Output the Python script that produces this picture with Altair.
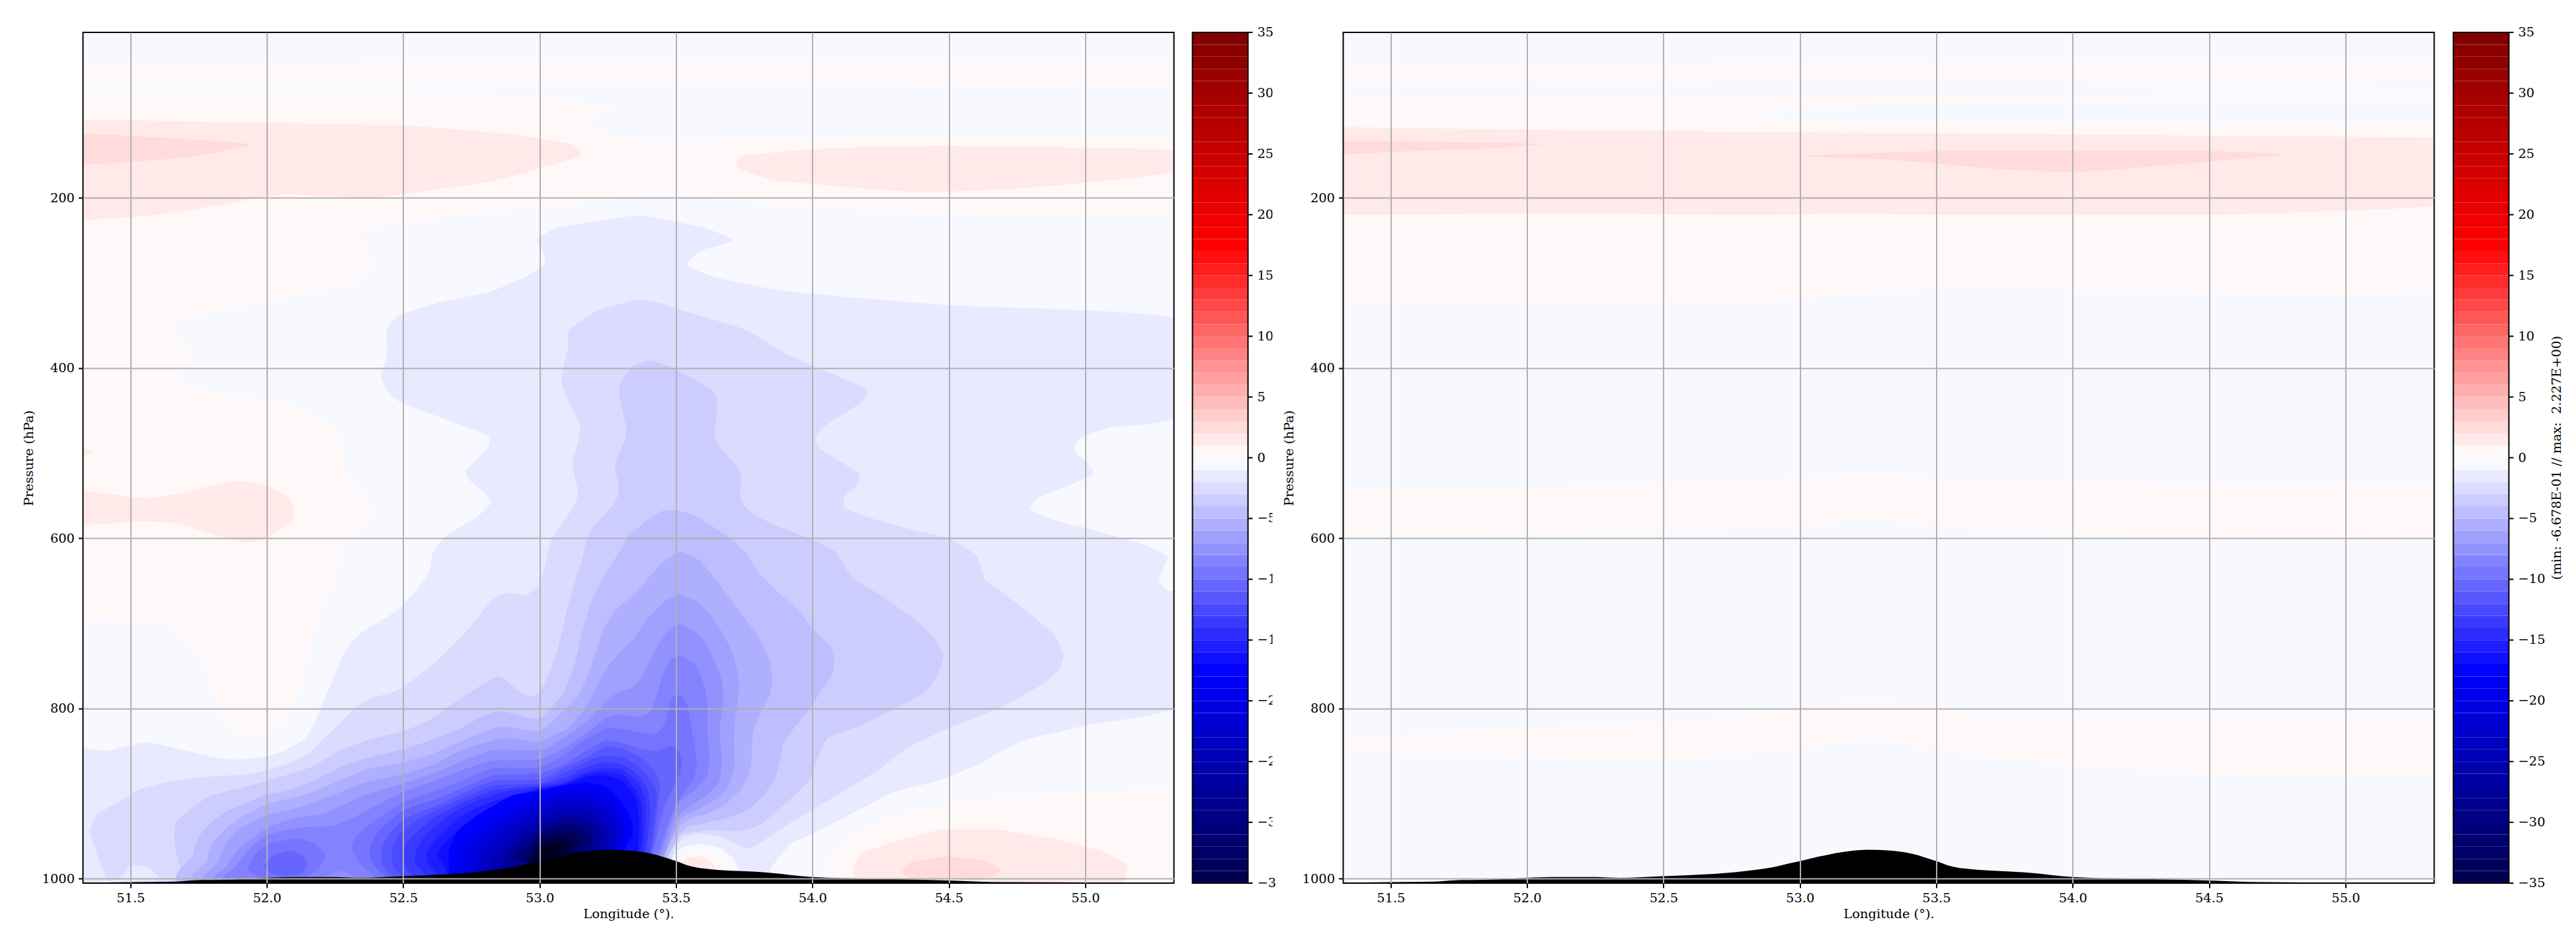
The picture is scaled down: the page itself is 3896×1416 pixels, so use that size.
import altair as alt
import pandas as pd

FONT = 'DejaVu Serif'
FONT_SIZE = 19.44
PLOT_W = 1650
PLOT_H = 1287

x_ticks = [51.5, 52.0, 52.5, 53.0, 53.5, 54.0, 54.5, 55.0]
y_ticks = [200, 400, 600, 800, 1000]
bar_ticks = [35, 30, 25, 20, 15, 10, 5, 0, -5, -10, -15, -20, -25, -30, -35]
bar_labels = ['35', '30', '25', '20', '15', '10', '5', '0', '−5', '−10', '−15', '−20', '−25', '−30', '−35']
# the left colour bar loses the end of its last label under the right panel
cut_ticks = [35, -35]
cut_labels = ['35', '−3']
bar_edges = list(range(-35, 35))

terrain_lon = [51.3, 51.5, 51.66, 51.72, 51.88, 52.0, 52.09, 52.25, 52.34, 52.5, 52.65, 52.8, 52.9, 52.96, 53.0, 53.07,
               53.15, 53.25, 53.33, 53.41, 53.5, 53.55, 53.6, 53.84, 54.0, 54.22, 54.5, 54.69, 55.0, 55.35]
terrain_p = [1005, 1004, 1003.5, 1002, 1001, 999, 998, 998, 999, 997, 995, 991, 986.5, 982, 979.4, 974,
             969, 966, 967, 970.6, 979.4, 985, 988, 993, 998, 1000, 1002, 1004, 1004.5, 1005]

# whole frame
bg_lon = [51, 56, 56, 51]
bg_p = [-50, -50, 1100, 1100]

# left panel, positive side
lp0a_lon = [51.3, 51.3, 52.5, 55.35, 55.35, 55.35, 53.0, 51.3]
lp0a_p = [30, 41, 41, 39, 45, 67, 66, 64]
lp0b_lon = [51.3, 51.3, 52.0, 52.9, 53.0, 53.27, 53.14, 53.25, 53.45, 54.5, 55.35, 55.35, 55.35, 54.5, 54.0, 53.45, 53.0, 52.5,
            52.34, 52.39, 52.29, 51.95, 51.69, 51.65, 51.73, 51.67, 51.77, 52.1, 52.26, 52.29, 52.31, 52.39, 52.37, 52.28,
            52.25, 52.2, 52.14, 52.12, 52.07, 52.01, 51.94, 51.89, 51.85, 51.82, 51.77, 51.65, 51.54, 51.3, 51.3]
lp0b_p = [85, 75, 75, 79, 82, 95, 109, 125, 132, 127, 127, 135, 219, 219, 210, 196, 210, 228,
          242, 281, 303, 324, 342, 358, 385, 411, 427, 445, 474, 526, 533, 565, 579, 604,
          646, 682, 744, 775, 812, 827, 834, 828, 814, 800, 744, 703, 696, 694, 680]
lp0c_lon = [54.05, 54.07, 54.18, 54.32, 54.53, 54.76, 54.99, 55.35, 55.35, 54.05]
lp0c_p = [1000, 972, 944, 926, 912, 903, 900, 899, 1010, 1010]
lp1a_lon = [51.3, 51.3, 52.0, 52.49, 52.88, 53.105, 53.15, 52.96, 52.8, 52.57, 52.37, 52.06, 51.84, 51.57, 51.3, 51.3]
lp1a_p = [115, 108, 112, 115, 125, 136, 150.5, 169, 182, 192.5, 200, 196, 207.5, 221, 226, 218]
lp1b_lon = [53.74, 53.73, 53.88, 54.38, 54.76, 55.07, 55.35, 55.35, 55.35, 55.0, 54.5, 54.22, 53.99]
lp1b_p = [151, 165, 180, 193, 189, 180, 169, 160, 144.5, 141, 139, 140, 143]
lp1c_lon = [51.3, 51.3, 51.49, 51.58, 51.69, 51.83, 51.91, 52.01, 52.08, 52.1, 52.09, 52.0, 51.92, 51.83, 51.69, 51.55, 51.3, 51.3]
lp1c_p = [550, 543, 551, 553, 547, 535.5, 533, 540, 552, 565, 579, 600, 605, 598, 584, 580, 585, 578]
lp1d_lon = [51.3, 51.36, 51.3]
lp1d_p = [492, 498.6, 509]
lp1e_lon = [54.15, 54.19, 54.32, 54.46, 54.66, 54.89, 55.07, 55.15, 55.15, 55.09, 54.22]
lp1e_p = [986.5, 969, 955, 943, 941.5, 953, 969, 983, 992, 1010, 1010]
lp2a_lon = [51.3, 51.33, 51.49, 51.94, 51.72, 51.49, 51.33, 51.3]
lp2a_p = [130, 125, 127, 137, 151.6, 158, 160.5, 155]
lp2b_lon = [54.33, 54.36, 54.49, 54.63, 54.69, 54.64, 54.36]
lp2b_p = [991, 981, 974, 979, 990, 999, 999]

# left panel, contours going down from -1
ln1_lon = [52.99, 53.07, 53.35, 53.45, 53.6, 53.71, 53.59, 53.54, 53.65, 53.91, 54.5, 55.35, 55.35, 55.09, 54.98, 54.96, 55.0, 55.03,
           54.94, 54.83, 54.8, 54.89, 55.0, 55.21, 55.3, 55.29, 55.27, 55.3, 55.35, 55.35, 55.0, 54.76, 54.63, 54.47, 54.3, 54.177,
           54.0, 53.918, 53.854, 53.842, 53.84, 51.3, 51.3, 51.33, 51.41, 51.5, 51.57, 51.68, 51.8, 51.9, 52.0, 52.07, 52.14, 52.18,
           52.2, 52.24, 52.27, 52.29, 52.35, 52.49, 52.59, 52.61, 52.66, 52.77, 52.82, 52.8, 52.75, 52.73, 52.81, 52.81, 52.71, 52.49,
           52.44, 52.42, 52.44, 52.44, 52.48, 52.62, 52.82, 52.94, 53.02, 53.01]
ln1_p = [249, 235, 221, 225, 235, 250, 262, 279, 294, 310, 326, 343, 455, 470, 482, 497, 509, 524,
         538, 552, 566, 579, 588, 607, 621, 632, 648, 662, 667, 795, 820, 839, 862, 884, 898, 918,
         947, 959.5, 984.5, 993, 1010, 1010, 850, 847, 850, 843, 840, 848, 857, 860, 856, 849, 835, 814,
         796, 768, 744, 731, 710, 682, 643, 616, 597, 575, 559, 547, 534, 521, 493, 479, 467, 440,
         426, 411, 383, 354, 339, 324, 310, 294, 278, 262]
ln2_lon = [53.36, 53.45, 53.5, 53.74, 53.82, 53.9, 54.0, 54.13, 54.2, 54.18, 54.05, 54.01, 54.03, 54.17, 54.16, 54.12, 54.12, 54.24,
           54.38, 54.5, 54.6, 54.63, 54.69, 54.81, 54.89, 54.92, 54.9, 54.84, 54.69, 54.5, 54.35, 54.25, 54.177, 54.015, 53.918,
           53.813, 53.765, 53.724, 53.668, 53.587, 53.53, 53.49, 53.46, 51.61, 51.61, 51.57, 51.53, 51.5, 51.46, 51.42, 51.4, 51.37,
           51.35, 51.38, 51.5, 51.54, 51.63, 51.73, 51.84, 51.92, 52.0, 52.07, 52.15, 52.21, 52.27, 52.32, 52.38, 52.45, 52.5, 52.63,
           52.73, 52.83, 52.89, 52.95, 53.0, 53.02, 53.045, 53.118, 53.138, 53.137, 53.12, 53.15, 53.08, 53.106, 53.106, 53.21]
ln2_p = [320, 324, 330, 353, 367, 383, 397, 415, 426, 440, 467, 481, 495, 524, 538, 550, 565, 579,
         591, 600, 620, 648, 662, 692, 715, 738, 756, 772, 799, 823, 846, 870, 885, 916, 934.5,
         957, 965, 959.5, 951, 947, 951, 968, 1010, 1010, 1000, 988, 984, 985, 999, 1002, 990, 964,
         944, 924, 902, 894, 887, 881.5, 879, 878, 872, 866, 854, 835, 817, 800, 788, 782, 775, 742,
         710, 671, 664, 667, 654, 631, 601, 566, 551, 539, 512, 470, 418, 372, 356, 333]
ln3_lon = [53.405, 53.449, 53.5, 53.627, 53.65, 53.65, 53.64, 53.66, 53.732, 53.74, 53.734, 53.749, 53.797, 53.878, 54.0, 54.084,
           54.146, 54.25, 54.39, 54.455, 54.48, 54.46, 54.41, 54.25, 54.177, 54.056, 54.015, 53.987, 53.894, 53.805, 53.732, 53.627,
           53.53, 53.502, 53.474, 53.44, 51.69, 51.69, 51.67, 51.66, 51.67, 51.72, 51.79, 51.91, 52.0, 52.16, 52.27, 52.38, 52.5, 52.6,
           52.71, 52.8, 52.853, 52.93, 52.97, 53.0, 53.04, 53.07, 53.102, 53.154, 53.175, 53.2, 53.264, 53.288, 53.289, 53.278, 53.278,
           53.312, 53.318, 53.293, 53.296, 53.344]
ln3_p = [391, 395, 402, 424.6, 437, 452, 479, 493, 519, 533, 547, 562, 574, 587, 601.5, 616,
         646, 667, 699, 721, 738, 760, 781, 809, 820, 835, 862, 885, 914, 937, 944, 943,
         947, 955, 972, 1010, 1010, 999, 972, 951, 933, 918, 903, 893, 885, 869, 849, 836, 827, 813,
         788, 770, 762.5, 781, 786, 780.5, 755.5, 726, 681, 626, 601, 585, 563, 549, 535, 520, 510,
         485, 470, 435, 418, 397.5]
ln4_lon = [53.5, 53.571, 53.676, 53.753, 53.805, 53.87, 53.943, 54.007, 54.064, 54.08, 54.072, 54.03, 53.991, 53.935, 53.894, 53.882,
           53.862, 53.813, 53.757, 53.692, 53.611, 53.546, 53.514, 53.49, 53.466, 53.43, 51.73, 51.73, 51.75, 51.79, 51.857, 51.93, 52.0,
           52.07, 52.17, 52.27, 52.37, 52.5, 52.6, 52.7, 52.79, 52.86, 52.97, 53.0, 53.037, 53.086, 53.126, 53.154, 53.183, 53.231, 53.28,
           53.328, 53.385, 53.449]
ln4_p = [567, 574, 595, 616, 641, 662, 683, 708, 726, 743, 760, 780.5, 799, 822, 841, 860,
         882.5, 905, 920, 928, 934.5, 939, 947, 962, 976, 1010, 1010, 972, 951, 936, 920, 910, 901,
         897, 885, 869, 858, 848, 837.5, 825, 809, 803, 812, 812, 801, 782.6, 751, 714, 680.6, 647, 622,
         597.5, 581, 568]
ln5_lon = [53.514, 53.587, 53.652, 53.732, 53.813, 53.842, 53.854, 53.842, 53.805, 53.781, 53.777, 53.765, 53.732, 53.676, 53.611, 53.546,
           53.514, 53.482, 53.46, 53.42, 51.78, 51.78, 51.8, 51.85, 51.91, 52.0, 52.15, 52.25, 52.37, 52.5, 52.61, 52.72, 52.83, 52.89, 52.96,
           53.0, 53.037, 53.086, 53.142, 53.183, 53.231, 53.272, 53.369, 53.441]
ln5_p = [616, 626.5, 651, 685, 722, 743, 766, 785, 807.6, 830, 860, 880, 897, 914, 924, 930,
         939, 955, 972, 1010, 1010, 980, 959, 941, 927, 912.5, 900, 887, 871, 863, 853, 837.5, 823, 822, 826,
         826, 818, 803, 785, 755.5, 710, 687, 658, 631]
ln6_lon = [53.514, 53.587, 53.66, 53.708, 53.732, 53.716, 53.712, 53.715, 53.692, 53.652, 53.587, 53.522, 53.498, 53.474, 53.454, 53.41,
           51.82, 51.82, 51.85, 51.9, 52.0, 52.13, 52.24, 52.36, 52.5, 52.61, 52.72, 52.83, 52.89, 52.97, 53.0, 53.045, 53.11, 53.158, 53.2,
           53.24, 53.28, 53.344, 53.4, 53.466]
ln6_p = [666, 676, 706, 735, 772, 814, 835, 868, 891, 905, 918, 928, 941, 959.5, 974, 1010,
         1010, 981, 959, 941, 925.5, 915, 902, 887, 877, 866, 848, 837.5, 835, 839, 839, 832.5, 822, 803, 780.5,
         755.5, 739, 718, 693, 672]
ln7_lon = [53.514, 53.587, 53.635, 53.668, 53.672, 53.66, 53.668, 53.66, 53.619, 53.555, 53.502, 53.482, 53.458, 53.445, 53.4,
           51.857, 51.857, 51.9, 51.965, 52.0, 52.095, 52.214, 52.355, 52.5, 52.615, 52.72, 52.83, 53.0, 53.045, 53.118, 53.183, 53.24,
           53.288, 53.336, 53.377, 53.425, 53.466]
ln7_p = [700.6, 714, 739, 768, 793, 826, 860, 885, 901, 914, 928, 943, 968, 974, 1010,
         1010, 984, 964, 949, 940, 929, 923, 902, 888, 876, 861, 849, 849, 843, 828, 812, 793,
         780.5, 776, 762, 730.6, 710]
ln8_lon = [53.514, 53.571, 53.603, 53.615, 53.615, 53.623, 53.611, 53.571, 53.514, 53.49, 53.466, 53.441, 53.39,
           51.89, 51.89, 51.93, 52.0, 52.117, 52.236, 52.32, 52.4, 52.5, 52.615, 52.72, 52.83, 53.0, 53.086, 53.175, 53.24, 53.288, 53.352,
           53.4, 53.425, 53.45, 53.474]
ln8_p = [737, 749, 772, 793, 826, 860, 880, 895, 909.6, 926, 947, 972, 1010,
         1010, 984, 967, 949, 940, 938, 928, 914, 898, 885, 872, 861, 859.5, 847, 828, 812, 807.6, 810,
         805.5, 789, 762, 745]
ln7b_lon = [52.2, 52.27, 52.33, 52.27]
ln7b_p = [1000, 991, 1000, 1005]
ln9a_lon = [51.93, 51.955, 52.01, 52.106, 52.17, 52.214, 52.19, 52.15, 52.06, 51.965]
ln9a_p = [988, 972, 959, 953, 958, 972, 988, 997, 999, 997]
ln10a_lon = [51.99, 52.02, 52.084, 52.128, 52.15, 52.128, 52.06, 52.01]
ln10a_p = [986, 973, 967, 972, 982, 994, 997, 993]
ln9_lon = [53.514, 53.542, 53.563, 53.576, 53.563, 53.53, 53.498, 53.474, 53.449, 53.43, 53.38, 52.4, 52.4, 52.34, 52.31, 52.33, 52.4, 52.5,
           52.615, 52.72, 52.83, 53.0, 53.086, 53.175, 53.24, 53.304, 53.369, 53.425, 53.458, 53.482]
ln9_p = [784, 797, 835, 862, 885, 897, 914, 932.5, 955, 972, 1010, 1010, 999, 982, 964, 949, 931, 910,
         897, 884, 870, 869, 855, 835, 824, 824, 828, 830, 818, 789]
ln10_lon = [53.482, 53.506, 53.522, 53.514, 53.49, 53.458, 53.437, 53.417, 53.37, 52.44, 52.44, 52.387, 52.377, 52.41, 52.5,
            52.615, 52.72, 52.83, 53.0, 53.086, 53.175, 53.24, 53.304, 53.369, 53.425]
ln10_p = [844, 847, 862, 876, 893, 914, 939, 968, 1010, 1010, 999, 982, 964, 944, 920,
          907, 893, 879, 876, 866, 849, 837, 841, 847, 850]
ln11_lon = [53.441, 53.437, 53.425, 53.41, 53.36, 52.463, 52.463, 52.425, 52.42, 52.44, 52.5, 52.615, 52.72, 52.83, 53.0, 53.086, 53.175, 53.24,
            53.304, 53.369, 53.417]
ln11_p = [887, 905, 939, 968, 1010, 1010, 999, 985, 967, 951, 931, 915, 899.6, 885, 883, 870, 857.5, 845,
          847, 857.5, 872]
ln12_lon = [53.43, 53.42, 53.405, 53.35, 52.5, 52.5, 52.463, 52.46, 52.48, 52.54, 52.615, 52.72, 52.83, 53.0, 53.086, 53.175, 53.24, 53.304, 53.36, 53.41]
ln12_p = [901, 930, 968, 1010, 1010, 999, 985, 967, 951, 933, 920, 905, 890.6, 888, 876, 862, 855, 857.5, 868, 885]
ln13_lon = [53.397, 53.405, 53.39, 53.34, 52.54, 52.54, 52.5, 52.5, 52.53, 52.615, 52.72, 52.83, 53.0, 53.086, 53.175, 53.24, 53.304, 53.36]
ln13_p = [897, 926, 968, 1010, 1010, 999, 982, 967, 951, 928, 910, 896, 890, 882.5, 868, 863, 866, 878]
ln14_lon = [53.385, 53.39, 53.38, 53.33, 52.59, 52.59, 52.544, 52.547, 52.58, 52.67, 52.78, 52.885, 53.0, 53.086, 53.175, 53.24, 53.304, 53.36]
ln14_p = [905, 930, 968, 1010, 1010, 999, 982, 967, 949, 925, 907, 897, 892, 887, 874, 870, 872, 887]
ln15_lon = [53.373, 53.377, 53.369, 53.32, 52.626, 52.626, 52.587, 52.587, 52.626, 52.72, 52.83, 53.0, 53.086, 53.175, 53.24, 53.304, 53.352]
ln15_p = [914, 939, 966, 1010, 1010, 997, 980, 969, 951, 925, 909, 894, 889, 877, 874, 878, 895]
ln16_lon = [53.365, 53.36, 53.31, 52.663, 52.663, 52.63, 52.63, 52.68, 52.77, 52.875, 53.0, 53.086, 53.175, 53.24, 53.304, 53.352]
ln16_p = [930, 964, 1010, 1010, 994, 975, 967, 949, 925, 910, 895, 890, 880, 879, 885, 905]
ln17_lon = [52.71, 52.666, 52.70, 52.8, 52.9, 53.0, 53.08, 53.175, 53.25, 53.3, 53.337, 53.34, 53.31, 53.3]
ln17_p = [1010, 972, 944, 920, 902, 897, 891, 887, 893, 910, 931, 949, 967, 1010]

# left panel, deep core of the low
ln19_lon = [52.72, 52.70, 52.74, 52.84, 52.93, 53.0, 53.08, 53.17, 53.25, 53.29, 53.32, 53.325, 53.3, 53.3]
ln19_p = [1010, 972, 948, 926, 909, 900, 895, 894, 900, 914, 932, 950, 970, 1010]
ln21_lon = [52.75, 52.74, 52.78, 52.87, 52.95, 53.02, 53.09, 53.17, 53.24, 53.28, 53.3, 53.305, 53.28, 53.28]
ln21_p = [1010, 972, 952, 932, 916, 907, 902, 902, 908, 920, 936, 952, 970, 1010]
ln23_lon = [52.79, 52.78, 52.82, 52.9, 52.97, 53.03, 53.1, 53.17, 53.22, 53.26, 53.28, 53.28, 53.26, 53.26]
ln23_p = [1010, 975, 956, 938, 923, 914, 910, 910, 916, 928, 941, 955, 972, 1010]
ln25_lon = [52.83, 52.82, 52.86, 52.93, 52.99, 53.05, 53.1, 53.16, 53.21, 53.24, 53.255, 53.255, 53.24, 53.24]
ln25_p = [1010, 975, 960, 944, 931, 922, 918, 919, 925, 935, 946, 958, 975, 1010]
ln28_lon = [52.87, 52.87, 52.9, 52.95, 53.0, 53.05, 53.1, 53.15, 53.19, 53.22, 53.23, 53.22, 53.2, 53.2]
ln28_p = [1010, 975, 963, 950, 938, 930, 927, 928, 934, 942, 951, 962, 978, 1010]
ln31_lon = [52.91, 52.93, 52.97, 53.01, 53.05, 53.1, 53.14, 53.17, 53.19, 53.19, 53.17, 53.15]
ln31_p = [978, 966, 955, 945, 938, 935, 937, 942, 950, 958, 968, 980]
ln34_lon = [52.94, 52.96, 52.99, 53.02, 53.06, 53.09, 53.12, 53.15, 53.155, 53.14, 53.12]
ln34_p = [980, 968, 958, 950, 945, 943, 945, 951, 958, 967, 980]
ln37_lon = [52.96, 52.98, 53.0, 53.03, 53.06, 53.09, 53.11, 53.12, 53.11, 53.09]
ln37_p = [982, 970, 961, 955, 951, 951, 955, 961, 969, 980]
ln40_lon = [52.98, 52.99, 53.01, 53.04, 53.07, 53.09, 53.09, 53.07]
ln40_p = [980, 970, 963, 958, 957, 960, 966, 975]
ln44_lon = [53.0, 53.02, 53.05, 53.07, 53.06]
ln44_p = [975, 964, 960, 964, 972]

# left panel, warm pocket behind the ridge
pocket0_lon = [53.45, 53.5, 53.58, 53.66, 53.71, 53.73, 53.73]
pocket0_p = [1010, 968, 959, 964, 976, 992, 1010]
pocket1_lon = [53.51, 53.53, 53.58, 53.63, 53.68, 53.68, 53.51]
pocket1_p = [985, 972, 966, 968, 980, 992, 992]
pocket2_lon = [53.52, 53.54, 53.58, 53.61, 53.64, 53.64, 53.52]
pocket2_p = [982.6, 976, 973.6, 976, 984, 992, 992]

# right panel
rp0a_lon = [51.3, 51.3, 53.0, 55.35, 55.35, 55.35, 53.0, 51.3]
rp0a_p = [30, 41, 41, 41, 50, 63, 63, 63]
rp0b_lon = [51.3, 51.3, 53.0, 55.35, 55.35, 55.35, 53.6, 53.0, 52.5, 51.3, 51.3]
rp0b_p = [90, 80, 80, 78, 90, 306, 305, 318, 322, 324, 310]
rwedge_lon = [52.7, 53.0, 53.68, 54.5, 55.35, 55.36, 53.68, 53.0]
rwedge_p = [96, 93, 88, 85, 83, 110, 111, 109]
rp1_lon = [51.3, 51.33, 52.0, 53.0, 53.5, 54.5, 55.35, 55.35, 55.35, 54.89, 54.5, 53.5, 53.19, 52.8, 52.0, 51.33, 51.3]
rp1_p = [125, 117, 120, 123, 124, 127, 129.5, 140, 207, 216, 220, 220, 218.5, 220, 218.5, 219.6, 210]
rp2a_lon = [51.3, 51.33, 52.0, 52.06, 51.85, 51.5, 51.33, 51.3]
rp2a_p = [138, 133, 136, 137, 142, 146, 149, 144]
rp2b_lon = [53.0, 53.5, 54.0, 54.5, 54.77, 54.4, 54.0, 53.68, 53.5, 53.27]
rp2b_p = [151, 145, 144, 145, 149, 160, 170, 165, 159.5, 154]
rmid_lon = [51.3, 51.3, 52.0, 52.5, 53.0, 53.25, 53.5, 53.68, 54.5, 55.35, 55.35, 55.35, 54.5, 53.68, 53.5, 53.25, 53.0, 52.5, 52.0, 51.3, 51.3]
rmid_p = [550, 544, 540, 537, 529, 524, 529, 534, 538, 538, 545, 600, 600, 591, 584, 578, 584, 594, 595, 596, 590]
rlow_lon = [51.3, 51.3, 51.72, 52.0, 52.5, 53.0, 53.25, 53.5, 53.68, 54.5, 55.35, 55.35, 55.35, 54.5, 53.68, 53.5, 53.25, 53.0, 52.5, 51.72, 51.3, 51.3]
rlow_p = [845, 838, 827, 822, 818, 800, 790, 800, 809, 811, 811, 820, 877, 877, 857, 848, 836, 846.5, 861, 855, 850, 846]

left_contours = [
    (-0.5, bg_lon, bg_p),
    (0.5, lp0a_lon, lp0a_p), (0.5, lp0b_lon, lp0b_p), (0.5, lp0c_lon, lp0c_p),
    (1.5, lp1a_lon, lp1a_p), (1.5, lp1b_lon, lp1b_p), (1.5, lp1c_lon, lp1c_p), (1.5, lp1d_lon, lp1d_p), (1.5, lp1e_lon, lp1e_p),
    (2.5, lp2a_lon, lp2a_p), (2.5, lp2b_lon, lp2b_p),
    (-1.5, ln1_lon, ln1_p), (-2.5, ln2_lon, ln2_p), (-3.5, ln3_lon, ln3_p), (-4.5, ln4_lon, ln4_p), (-5.5, ln5_lon, ln5_p),
    (-6.5, ln6_lon, ln6_p), (-7.5, ln7_lon, ln7_p), (-8.5, ln8_lon, ln8_p), (-7.5, ln7b_lon, ln7b_p),
    (-9.5, ln9a_lon, ln9a_p), (-10.5, ln10a_lon, ln10a_p),
    (-9.5, ln9_lon, ln9_p), (-10.5, ln10_lon, ln10_p), (-11.5, ln11_lon, ln11_p), (-12.5, ln12_lon, ln12_p), (-13.5, ln13_lon, ln13_p),
    (-14.5, ln14_lon, ln14_p), (-15.5, ln15_lon, ln15_p), (-16.5, ln16_lon, ln16_p), (-17.5, ln17_lon, ln17_p),
    (-19, ln19_lon, ln19_p), (-21, ln21_lon, ln21_p), (-23, ln23_lon, ln23_p), (-25, ln25_lon, ln25_p), (-28, ln28_lon, ln28_p),
    (-31, ln31_lon, ln31_p), (-34, ln34_lon, ln34_p), (-37, ln37_lon, ln37_p), (-40, ln40_lon, ln40_p), (-44, ln44_lon, ln44_p),
    (-0.5, pocket0_lon, pocket0_p), (0.5, pocket1_lon, pocket1_p), (1.5, pocket2_lon, pocket2_p),
]
right_contours = [
    (-0.5, bg_lon, bg_p),
    (0.5, rp0a_lon, rp0a_p), (0.5, rp0b_lon, rp0b_p), (-0.5, rwedge_lon, rwedge_p),
    (1.5, rp1_lon, rp1_p), (2.5, rp2a_lon, rp2a_p), (2.5, rp2b_lon, rp2b_p),
    (0.5, rmid_lon, rmid_p), (0.5, rlow_lon, rlow_p),
]

color_scale = alt.Scale(
    domain=[-45, -35, -17.5, 0, 17.5, 35],
    range=['#000010', '#00004c', '#0000ff', '#ffffff', '#ff0000', '#7f0000'],
    interpolate='rgb',
)
x_scale = alt.Scale(domain=[51.326, 55.325], nice=False, zero=False)
y_scale = alt.Scale(domain=[5.6, 1005.2], reverse=True, nice=False, zero=False)


def contour_table(contours):
    rows = []
    for i, (level, lons, ps) in enumerate(contours):
        for j, (lon, p) in enumerate(zip(lons, ps)):
            rows.append({'poly': i, 'seq': j, 'level': level, 'lon': lon, 'p': p})
    return pd.DataFrame(rows)


def frame(w, h, x0=0):
    return alt.Chart(alt.Data(values=[{}])).mark_rect(fill='transparent', stroke='black', strokeWidth=2).encode(
        x=alt.value(x0), x2=alt.value(w), y=alt.value(0), y2=alt.value(h)
    )


def panel(contours):
    x_axis = alt.Axis(values=x_ticks, format='.1f', title='Longitude (°).', grid=True, gridColor='#b0b0b0', gridWidth=2,
                      domain=False, tickColor='black', tickWidth=2, tickSize=7, labelFont=FONT, labelFontSize=FONT_SIZE, labelColor='black',
                      labelPadding=6, titleFont=FONT, titleFontSize=FONT_SIZE, titleFontWeight='normal', titleColor='black', titlePadding=6,
                      labelOverlap=False, labelFlush=False, zindex=1)
    y_axis = alt.Axis(values=y_ticks, format='d', title='Pressure (hPa)', grid=True, gridColor='#b0b0b0', gridWidth=2,
                      domain=False, tickColor='black', tickWidth=2, tickSize=7, labelFont=FONT, labelFontSize=FONT_SIZE, labelColor='black',
                      labelPadding=6, titleFont=FONT, titleFontSize=FONT_SIZE, titleFontWeight='normal', titleColor='black', titlePadding=9.5,
                      labelOverlap=False, zindex=1)
    fills = alt.Chart(contour_table(contours)).mark_line(filled=True, interpolate='cardinal-closed', tension=0.5, clip=True).encode(
        x=alt.X('lon:Q', scale=x_scale, axis=x_axis),
        y=alt.Y('p:Q', scale=y_scale, axis=y_axis),
        order='seq:Q',
        detail='poly:N',
        color=alt.Color('level:Q', scale=color_scale, legend=None),
    )
    terrain_df = pd.DataFrame({'lon': terrain_lon, 'p': terrain_p, 'floor': [1010] * len(terrain_lon)})
    terrain = alt.Chart(terrain_df).mark_area(color='black', interpolate='monotone', clip=True).encode(
        x=alt.X('lon:Q', scale=x_scale),
        y=alt.Y('p:Q', scale=y_scale),
        y2='floor:Q',
    )
    return alt.layer(fills, terrain, frame(PLOT_W, PLOT_H)).properties(width=PLOT_W, height=PLOT_H)


def colorbar(view_w, bar_x0, note=None):
    bar_x1 = bar_x0 + 84
    bar_df = pd.DataFrame({'lo': bar_edges, 'hi': [e + 1 for e in bar_edges], 'mid': [e + 0.5 for e in bar_edges]})
    tick_df = pd.DataFrame({'tick': bar_ticks, 'label': bar_labels})
    y_bar = alt.Y('lo:Q', scale=alt.Scale(domain=[-35, 35], nice=False, zero=False), axis=None)
    y_tick = alt.Y('tick:Q', scale=alt.Scale(domain=[-35, 35], nice=False, zero=False), axis=None)
    bands = alt.Chart(bar_df).mark_rect().encode(
        x=alt.value(bar_x0), x2=alt.value(bar_x1), y=y_bar, y2='hi:Q',
        color=alt.Color('mid:Q', scale=color_scale, legend=None),
    )
    ticks = alt.Chart(tick_df).mark_rule(color='black', strokeWidth=2).encode(
        x=alt.value(bar_x1), x2=alt.value(bar_x1 + 7), y=y_tick,
    )
    layers = [bands, frame(bar_x1, PLOT_H, bar_x0), ticks]
    if note:
        # nothing sits on this colour bar's labels
        layers.append(alt.Chart(tick_df).mark_text(align='left', baseline='middle', font=FONT, fontSize=FONT_SIZE, color='black').encode(
            x=alt.value(bar_x1 + 14), y=y_tick, text='label:N',
        ))
        layers.append(alt.Chart(alt.Data(values=[{'note': note}])).mark_text(
            angle=270, align='center', baseline='middle', font=FONT, fontSize=FONT_SIZE, color='black'
        ).encode(x=alt.value(bar_x1 + 72), y=alt.value(PLOT_H / 2), text='note:N'))
    else:
        inner_df = tick_df[~tick_df['tick'].isin(cut_ticks)]
        end_df = pd.DataFrame({'tick': cut_ticks, 'label': cut_labels})
        layers.append(alt.Chart(inner_df).mark_text(align='left', baseline='middle', font=FONT, fontSize=FONT_SIZE, color='black', clip=True).encode(
            x=alt.value(bar_x1 + 14), y=y_tick, text='label:N',
        ))
        layers.append(alt.Chart(end_df).mark_text(align='left', baseline='middle', font=FONT, fontSize=FONT_SIZE, color='black').encode(
            x=alt.value(bar_x1 + 14), y=y_tick, text='label:N',
        ))
    return alt.layer(*layers).properties(width=view_w, height=PLOT_H)


chart = alt.hconcat(
    panel(left_contours),
    colorbar(139.5, 18.5),
    panel(right_contours),
    colorbar(180, 19.5, '(min: -6.678E-01 // max:\u00a0 2.227E+00)'),
    spacing=8.5,
).properties(
    padding={'left': 25.5, 'top': 31, 'right': 5, 'bottom': 5},
).configure_view(stroke=None)

chart.save("out.html", embed_options={"renderer": "svg", "actions": False})
